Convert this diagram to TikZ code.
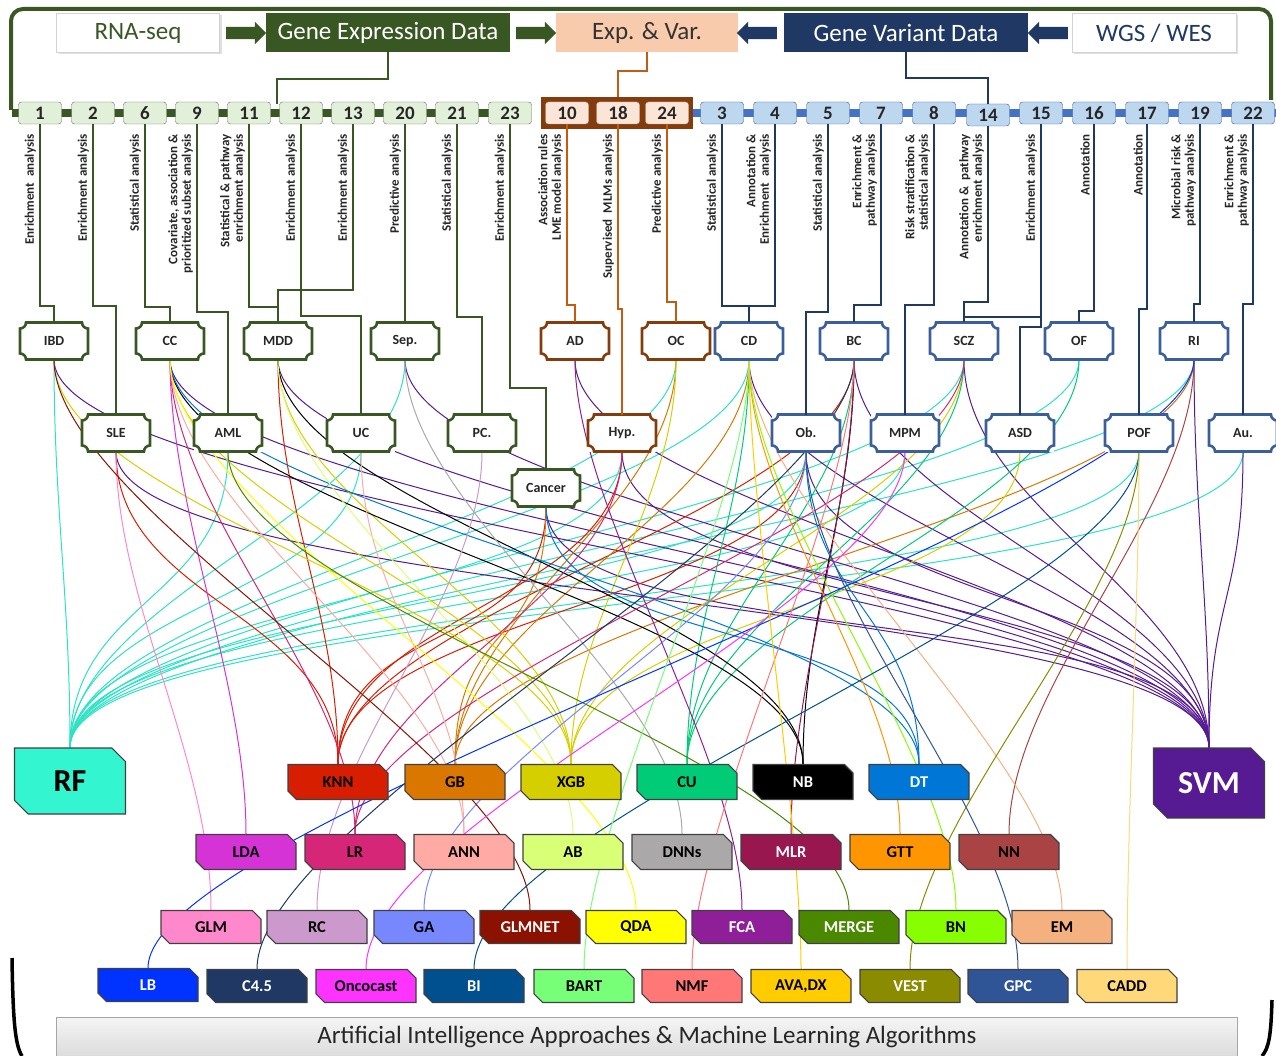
\documentclass[tikz,border=0pt]{standalone}
\usepackage{fontspec}
\setmainfont{Carlito}
\usetikzlibrary{shapes.misc,shapes.arrows,shadows}

\definecolor{expgreen}{HTML}{385723}
\definecolor{varblue}{HTML}{203864}
\definecolor{expvar}{HTML}{F8CBAD}
\definecolor{rust}{HTML}{843C0C}
\definecolor{rustline}{HTML}{C55A11}
\definecolor{plaqueblue}{HTML}{3A5F9A}
\definecolor{barblue}{HTML}{4472C4}
\definecolor{numgreen}{HTML}{E2F0D9}
\definecolor{numblue}{HTML}{BDD7EE}
\definecolor{numpeach}{HTML}{FBE5D6}
% algorithm colours
\definecolor{cRF}{HTML}{33F5CF}
\definecolor{cKNN}{HTML}{D81E00}
\definecolor{cGB}{HTML}{D97700}
\definecolor{cXGB}{HTML}{D6CF00}
\definecolor{cCU}{HTML}{00CC77}
\definecolor{cNB}{HTML}{000000}
\definecolor{cDT}{HTML}{0077D6}
\definecolor{cSVM}{HTML}{561A93}
\definecolor{cLDA}{HTML}{D633D6}
\definecolor{cLR}{HTML}{D62677}
\definecolor{cANN}{HTML}{FFAAA5}
\definecolor{cAB}{HTML}{D9FF77}
\definecolor{cDNN}{HTML}{AAA8A8}
\definecolor{cMLR}{HTML}{99174F}
\definecolor{cGTT}{HTML}{FF9500}
\definecolor{cNN}{HTML}{AA4444}
\definecolor{cGLM}{HTML}{FF88CC}
\definecolor{cRC}{HTML}{CC99CC}
\definecolor{cGA}{HTML}{7788FF}
\definecolor{cGLMNET}{HTML}{8B1100}
\definecolor{cQDA}{HTML}{FFFF00}
\definecolor{cFCA}{HTML}{8F1F99}
\definecolor{cMERGE}{HTML}{4A8800}
\definecolor{cBN}{HTML}{88FF00}
\definecolor{cEM}{HTML}{F5B07F}
\definecolor{cLB}{HTML}{0033FF}
\definecolor{cCfour}{HTML}{1F3864}
\definecolor{cONCO}{HTML}{FF33FF}
\definecolor{cBI}{HTML}{004F8F}
\definecolor{cBART}{HTML}{77FF77}
\definecolor{cNMF}{HTML}{FF7777}
\definecolor{cAVA}{HTML}{FFCC00}
\definecolor{cVEST}{HTML}{8B8B00}
\definecolor{cGPC}{HTML}{2F5597}
\definecolor{cCADD}{HTML}{FFD87A}

\pgfdeclarelayer{links}
\pgfsetlayers{links,main}

% frame with hollow corners round a disease node
\newcommand\plaque[2]{%
  \draw[#2, line width=2.6pt]
    ([xshift=6pt]#1.north west) -- ([xshift=-6pt]#1.north east)
    arc[start angle=180, end angle=270, radius=6pt]
    -- ([yshift=6pt]#1.south east)
    arc[start angle=90, end angle=180, radius=6pt]
    -- ([xshift=6pt]#1.south west)
    arc[start angle=0, end angle=90, radius=6pt]
    -- ([yshift=-6pt]#1.north west)
    arc[start angle=270, end angle=360, radius=6pt] -- cycle;}

% curved link from a disease to an algorithm
\newcommand\link[3]{%
  \draw[line width=1pt, #3] (#1.south) .. controls ([yshift=-150pt]#1.south)
    and ([yshift=150pt]#2.north) .. (#2.north);}

\tikzset{
  topbox/.style={minimum height=39pt, inner sep=0pt, outer sep=0pt,
    font=\fontsize{25}{25}\selectfont},
  blockarrow/.style={single arrow, inner sep=0pt, inner ysep=6pt,
    minimum height=40pt, single arrow head extend=5pt},
  numg/.style={draw=gray!60!expgreen, fill=numgreen, rounded corners=3pt,
    minimum width=43pt, minimum height=22pt, inner sep=0pt,
    font=\fontsize{19}{19}\selectfont\bfseries, text=black!85},
  numb/.style={numg, draw=barblue!80!black, fill=numblue},
  nump/.style={numg, draw=gray!70, fill=numpeach},
  lbl/.style={rotate=90, anchor=south east, align=right, inner sep=0pt,
    font=\fontsize{13}{13.5}\selectfont\bfseries, text=black!85},
  disease/.style={fill=white, minimum width=68pt, minimum height=37pt,
    inner sep=0pt, outer sep=0pt, font=\fontsize{14}{14}\selectfont\bfseries,
    text=black!85},
  algo/.style={chamfered rectangle, chamfered rectangle corners={north east,south west},
    chamfered rectangle xsep=7pt, draw=black!75, line width=1.1pt,
    minimum width=100pt, minimum height=35pt, inner sep=0pt,
    font=\fontsize{16.5}{16.5}\selectfont\bfseries},
  lowalgo/.style={algo, minimum height=33pt},
  bigalgo/.style={algo, chamfered rectangle xsep=12pt, minimum width=111pt,
    minimum height=66pt, font=\fontsize{32}{32}\selectfont\bfseries},
  conng/.style={expgreen, line width=2pt},
  connb/.style={varblue, line width=2pt},
  connr/.style={rustline, line width=2pt},
}

\begin{document}
\begin{tikzpicture}[x=1pt, y=-1pt]
\useasboundingbox (0,0) rectangle (1276,1056);

% outer bracket lines
\draw[expgreen, line width=4pt, rounded corners=12pt] (11,110) -- (11,9) -- (1271,9) -- (1271,100);
\draw[line width=3.5pt] (12,958) .. controls (13,1020) and (15,1045) .. (22,1056);
\draw[line width=3.5pt] (1272,1000) .. controls (1271,1035) and (1269,1048) .. (1262,1056);

% data sources
\node[topbox, fill=white, draw=gray!35, minimum width=163pt, text=expgreen,
  drop shadow={opacity=0.25, shadow xshift=2pt, shadow yshift=-2pt}] (rna) at (138,33) {RNA-seq};
\node[topbox, fill=expgreen, minimum width=244pt, text=white] (ged) at (388,33) {Gene Expression Data};
\node[topbox, fill=expvar, minimum width=182pt, text=black!80] (ev) at (647,33) {Exp. \& Var.};
\node[topbox, fill=varblue, minimum width=244pt, text=white] (gvd) at (906,33) {Gene Variant Data};
\node[topbox, fill=white, draw=gray!35, minimum width=164pt, text=varblue,
  drop shadow={opacity=0.25, shadow xshift=2pt, shadow yshift=-2pt}] (wgs) at (1154,33) {WGS / WES};

\node[blockarrow, fill=expgreen] (ar1) at (243,33) {};
\node[blockarrow, fill=expgreen] (ar2) at (533,33) {};
\node[blockarrow, fill=varblue, shape border rotate=180] (ar3) at (760,33) {};
\node[blockarrow, fill=varblue, shape border rotate=180] (ar4) at (1051,33) {};

% numbered studies
\coordinate (gjoin) at (277,104);
\coordinate (rjoin) at (618,97);
\node[fill=rust, minimum width=152pt, minimum height=32pt, inner sep=0pt] (bx) at (617,113) {};
\draw[expgreen, line width=8pt] (12,113) -- (530,113);
\draw[barblue, line width=8pt] (bx.east) -- (1276,113);

\foreach \n/\x in {1/40,2/93,6/145,9/197,11/249,12/301,13/353,20/405,21/457,23/510}
  \node[numg] (b\n) at (\x,113) {\n};
\foreach \n/\x in {10/567,18/618,24/667}
  \node[nump] (b\n) at (\x,113) {\n};
\foreach \n/\x in {3/722,4/775,5/828,7/881,8/934,15/1041,16/1094,17/1147,19/1200,22/1253}
  \node[numb] (b\n) at (\x,113) {\n};
\node[numb] (b14) at (988,115) {14};

\draw[conng] (ged.south) -- ++(0,27) -| (gjoin);
\draw[connr] (ev.south) -- ++(0,19) -| (rjoin);
\draw[connb] (gvd.south) -- ++(0,26) -| (b14.north);

% analysis labels
\foreach \n/\t in {1/{Enrichment~~analysis}, 2/{Enrichment analysis}, 6/{Statistical analysis},
  9/{Covariate, association \&\\ prioritized subset analysis},
  11/{Statistical \& pathway\\ enrichment analysis}, 12/{Enrichment analysis},
  13/{Enrichment analysis}, 20/{Predictive analysis}, 21/{Statistical analysis},
  23/{Enrichment analysis}, 10/{Association rules\\ LME model analysis},
  18/{Supervised~ MLMs analysis}, 24/{Predictive analysis}, 3/{Statistical analysis},
  4/{Annotation \&\\ Enrichment~ analysis}, 5/{Statistical analysis},
  7/{Enrichment \&\\ pathway analysis}, 8/{Risk stratification \&\\ statistical analysis},
  14/{Annotation \& ~pathway\\ enrichment analysis}, 15/{Enrichment analysis},
  16/{Annotation}, 17/{Annotation}, 19/{Microbial risk \&\\ pathway analysis},
  22/{Enrichment \&\\ pathway analysis}}
  \node[lbl] (l\n) at ([xshift=-4pt]b\n.south |- 0,134) {\t};

% diseases
\foreach \d/\x/\y/\t in {IBD/54/341/IBD, CC/170/341/CC, MDD/278/341/MDD, Sep/405/341/Sep.,
  SLE/116/433/SLE, AML/228/433/AML, UC/361/433/UC, PC/482/433/PC., Cancer/546/488/Cancer}
  {\node[disease] (\d) at (\x,\y) {\t}; \plaque{\d}{expgreen}}
\foreach \d/\x/\y/\t in {AD/575/341/AD, OC/676/341/OC, Hyp/622/433/Hyp.}
  {\node[disease] (\d) at (\x,\y) {\t}; \plaque{\d}{rust}}
\foreach \d/\x/\y/\t in {CD/749/341/CD, BC/854/341/BC, SCZ/964/341/SCZ, OF/1079/341/OF,
  RI/1194/341/RI, Ob/806/433/Ob., MPM/905/433/MPM, ASD/1020/433/ASD, POF/1139/433/POF,
  Au/1243/433/Au.}
  {\node[disease] (\d) at (\x,\y) {\t}; \plaque{\d}{plaqueblue}}

% study -> disease
\foreach \n/\d/\s in {1/IBD/16, 2/SLE/108, 6/CC/15, 9/AML/102, 11/MDD/15, 13/MDD/32,
  12/UC/98, 20/Sep/17, 21/PC/97, 23/Cancer/82}
  \draw[conng] (b\n.south) |- ([yshift=\s pt]\d.north) -- (\d.north);
\foreach \n/\d/\s in {10/AD/17, 18/Hyp/105, 24/OC/20}
  \draw[connr] (b\n.south) |- ([yshift=\s pt]\d.north) -- (\d.north);
\foreach \n/\d/\s in {3/CD/16, 4/CD/16, 5/Ob/102, 7/BC/17, 8/MPM/109, 14/SCZ/20,
  15/ASD/87, 16/OF/11, 17/POF/105, 19/RI/18, 22/Au/110}
  \draw[connb] (b\n.south) |- ([yshift=\s pt]\d.north) -- (\d.north);
\draw[connb] (b15.south) |- ([yshift=5pt]SCZ.north);

% algorithms
\node[bigalgo, fill=cRF] (RF) at (70,781) {RF};
\node[bigalgo, fill=cSVM, text=white, minimum height=70pt] (SVM) at (1209,783) {SVM};

\node[algo, fill=cKNN] (KNN) at (338,782) {KNN};
\node[algo, fill=cGB] (GB) at (455,782) {GB};
\node[algo, fill=cXGB] (XGB) at (571,782) {XGB};
\node[algo, fill=cCU] (CU) at (687,782) {CU};
\node[algo, fill=cNB, text=white] (NB) at (803,782) {NB};
\node[algo, fill=cDT, text=white] (DT) at (919,782) {DT};

\node[algo, fill=cLDA] (LDA) at (246,852) {LDA};
\node[algo, fill=cLR] (LR) at (355,852) {LR};
\node[algo, fill=cANN] (ANN) at (464,852) {ANN};
\node[algo, fill=cAB] (AB) at (573,852) {AB};
\node[algo, fill=cDNN] (DNN) at (682,852) {DNNs};
\node[algo, fill=cMLR, text=white] (MLR) at (791,852) {MLR};
\node[algo, fill=cGTT] (GTT) at (900,852) {GTT};
\node[algo, fill=cNN] (NN) at (1009,852) {NN};

\node[lowalgo, fill=cGLM] (GLM) at (211,927) {GLM};
\node[lowalgo, fill=cRC] (RC) at (317,927) {RC};
\node[lowalgo, fill=cGA] (GA) at (424,927) {GA};
\node[lowalgo, fill=cGLMNET, text=white] (GLMNET) at (530,927) {GLMNET};
\node[lowalgo, fill=cQDA] (QDA) at (636,927) {QDA};
\node[lowalgo, fill=cFCA, text=white] (FCA) at (742,927) {FCA};
\node[lowalgo, fill=cMERGE, text=white] (MERGE) at (849,927) {MERGE};
\node[lowalgo, fill=cBN] (BN) at (956,927) {BN};
\node[lowalgo, fill=cEM] (EM) at (1062,927) {EM};

\node[lowalgo, fill=cLB, text=white] (LB) at (148,985) {LB};
\node[lowalgo, fill=cCfour, text=white] (Cfour) at (257,986) {C4.5};
\node[lowalgo, fill=cONCO] (ONCO) at (366,986) {Oncocast};
\node[lowalgo, fill=cBI, text=white] (BI) at (474,986) {BI};
\node[lowalgo, fill=cBART] (BART) at (584,986) {BART};
\node[lowalgo, fill=cNMF] (NMF) at (692,986) {NMF};
\node[lowalgo, fill=cAVA] (AVA) at (801,986) {AVA,DX};
\node[lowalgo, fill=cVEST, text=white] (VEST) at (910,986) {VEST};
\node[lowalgo, fill=cGPC, text=white] (GPC) at (1018,986) {GPC};
\node[lowalgo, fill=cCADD] (CADD) at (1127,986) {CADD};

\node[top color=gray!8, bottom color=gray!28, draw=gray!70, minimum width=1181pt,
  minimum height=39pt, inner sep=0pt, font=\fontsize{25}{25}\selectfont, text=black!85]
  (ai) at (647,1037) {Artificial Intelligence Approaches \& Machine Learning Algorithms};

% disease -> algorithm links
\begin{pgfonlayer}{links}
\foreach \d in {IBD, AML, UC, Sep, Hyp, OC, CD, Ob, MPM, SCZ, OF, POF, Au, RI}
  {\link{\d}{RF}{cRF!85!teal}}
\foreach \d in {IBD, SLE, CC, MDD, Sep, Cancer, AD, Hyp, CD, Ob, BC, SCZ, RI, Au}
  {\link{\d}{SVM}{cSVM}}
\foreach \d/\a in {SLE/KNN, MDD/KNN, Cancer/KNN, Ob/KNN, BC/KNN, Hyp/KNN,
  Cancer/GB, OC/GB, RI/GB, CD/GB,
  IBD/XGB, CC/XGB, MDD/XGB, OC/XGB, SCZ/XGB, ASD/XGB,
  BC/CU, SCZ/CU, OF/CU, CD/CU,
  CC/NB, MDD/NB, BC/NB,
  CC/DT, Cancer/DT, Ob/DT,
  CC/LDA, CC/LR, Hyp/LR, SCZ/LR, UC/ANN, CC/ANN, MDD/AB, Sep/DNN, BC/MLR,
  CD/GTT, RI/NN,
  SLE/GLM, PC/RC, Ob/GA, IBD/GLMNET, CC/QDA, AD/FCA, AML/MERGE, CD/BN, CD/EM,
  RI/LB, BC/Cfour, MPM/ONCO, POF/BI, CD/BART, BC/NMF, CD/AVA, POF/VEST, Ob/GPC,
  POF/CADD}
  {\link{\d}{\a}{c\a}}
\end{pgfonlayer}

\end{tikzpicture}
\end{document}
